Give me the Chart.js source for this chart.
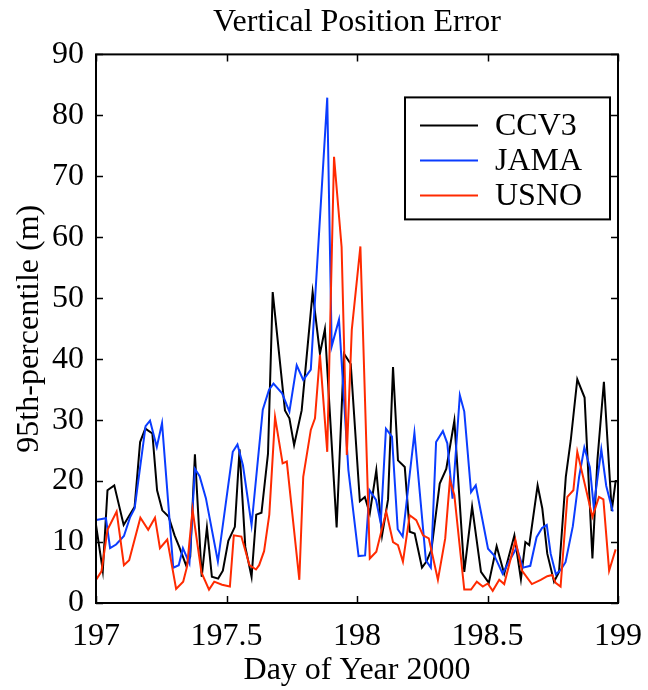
<!DOCTYPE html>
<html>
<head>
<meta charset="utf-8">
<title>Vertical Position Error</title>
<script src="https://cdn.jsdelivr.net/npm/chart.js@4.4.1/dist/chart.umd.min.js"></script>
<style>
    html, body { margin: 0; padding: 0; background: #fff; }
    #wrap { width: 648px; height: 690px; }
</style>
</head>
<body>
<div id="wrap"><canvas id="vpe-chart" width="648" height="690"></canvas></div>
<script>
// values: day of year 2000 and 95th-percentile error (m)
const ccv3Days = [197.000, 197.026, 197.044, 197.070, 197.106, 197.148, 197.169, 197.189, 197.216, 197.234,
    197.254, 197.278, 197.301, 197.319, 197.345, 197.361, 197.379, 197.405, 197.425, 197.444,
    197.468, 197.486, 197.507, 197.532, 197.550, 197.572, 197.596, 197.614, 197.634, 197.659,
    197.677, 197.724, 197.741, 197.759, 197.788, 197.830, 197.858, 197.877, 197.922, 197.950,
    197.976, 198.011, 198.030, 198.049, 198.074, 198.096, 198.119, 198.138, 198.157, 198.183,
    198.202, 198.221, 198.249, 198.266, 198.285, 198.317, 198.342, 198.373, 198.411, 198.441,
    198.475, 198.505, 198.535, 198.564, 198.603, 198.628, 198.645, 198.660, 198.692, 198.710,
    198.729, 198.755, 198.774, 198.800, 198.819, 198.844, 198.872, 198.902, 198.921, 198.946,
    198.976, 198.991, 199.011]
const ccv3Values = [12.8, 5.3, 18.5, 19.3, 12.8, 15.8, 26.4, 28.6, 27.8, 18.5,
    15.2, 14.2, 11.1, 9.2, 6.2, 7.6, 24.4, 4.3, 12.4, 4.3,
    4.0, 5.3, 10.2, 12.5, 25.2, 9.2, 4.3, 14.5, 14.8, 24.5,
    51.0, 31.6, 30.3, 25.9, 31.6, 51.0, 40.9, 44.9, 12.4, 40.9,
    39.2, 16.7, 17.4, 14.7, 21.8, 11.1, 17.0, 38.7, 23.4, 22.3,
    11.7, 11.4, 5.8, 6.8, 8.7, 19.6, 22.0, 29.9, 5.1, 15.8,
    5.1, 3.3, 9.3, 4.8, 11.1, 3.9, 10.0, 9.5, 19.3, 15.5,
    8.1, 3.5, 5.1, 20.7, 26.7, 36.7, 33.7, 7.3, 23.4, 36.3,
    15.1, 20.0, 20.0]

const jamaDays = [197.000, 197.038, 197.054, 197.077, 197.107, 197.130, 197.148, 197.190, 197.207, 197.233,
    197.253, 197.296, 197.317, 197.333, 197.358, 197.379, 197.397, 197.421, 197.467, 197.524,
    197.542, 197.563, 197.596, 197.639, 197.663, 197.680, 197.713, 197.741, 197.769, 197.794,
    197.823, 197.886, 197.903, 197.931, 197.967, 198.006, 198.031, 198.048, 198.073, 198.091,
    198.111, 198.134, 198.156, 198.175, 198.220, 198.264, 198.283, 198.303, 198.329, 198.346,
    198.366, 198.394, 198.411, 198.437, 198.455, 198.502, 198.526, 198.558, 198.580, 198.612,
    198.636, 198.664, 198.688, 198.709, 198.727, 198.742, 198.762, 198.780, 198.799, 198.827,
    198.851, 198.871, 198.892, 198.907, 198.936, 198.955, 198.980]
const jamaValues = [13.6, 13.9, 9.0, 9.6, 11.0, 14.0, 15.5, 29.0, 29.9, 25.6,
    29.5, 5.8, 6.2, 9.0, 6.5, 22.0, 20.8, 17.2, 6.8, 24.8,
    26.0, 22.6, 12.8, 31.7, 35.0, 36.0, 34.4, 31.4, 39.0, 36.6,
    38.3, 82.9, 42.1, 46.5, 21.8, 7.7, 7.8, 18.5, 16.9, 13.1,
    28.6, 27.3, 12.1, 10.9, 27.9, 7.0, 5.8, 26.4, 28.2, 26.2,
    17.1, 34.1, 31.4, 18.2, 19.3, 8.9, 7.8, 4.8, 6.6, 9.1,
    5.8, 6.1, 10.8, 12.3, 12.8, 8.1, 4.7, 5.4, 6.7, 12.6,
    20.7, 25.5, 22.3, 15.8, 25.2, 19.2, 15.0]

const usnoDays = [197.000, 197.021, 197.044, 197.079, 197.107, 197.127, 197.170, 197.200, 197.226, 197.245,
    197.273, 197.307, 197.334, 197.349, 197.370, 197.404, 197.433, 197.453, 197.483, 197.513,
    197.528, 197.557, 197.588, 197.613, 197.625, 197.644, 197.664, 197.686, 197.715, 197.731,
    197.779, 197.794, 197.823, 197.839, 197.858, 197.886, 197.912, 197.941, 197.961, 197.980,
    198.013, 198.049, 198.074, 198.112, 198.138, 198.157, 198.176, 198.202, 198.227, 198.253,
    198.275, 198.310, 198.338, 198.356, 198.373, 198.411, 198.437, 198.459, 198.482, 198.501,
    198.520, 198.545, 198.564, 198.607, 198.632, 198.670, 198.704, 198.729, 198.748, 198.761,
    198.780, 198.806, 198.829, 198.844, 198.902, 198.927, 198.944, 198.966, 198.991]
const usnoValues = [3.8, 5.2, 12.0, 15.0, 6.2, 7.0, 14.0, 12.0, 14.0, 9.0,
    10.4, 2.3, 3.5, 6.0, 15.3, 5.0, 2.2, 3.5, 3.0, 2.7,
    11.1, 10.9, 6.2, 5.5, 6.2, 8.5, 14.5, 30.5, 22.9, 23.2,
    3.8, 20.7, 28.4, 30.3, 40.7, 24.8, 73.2, 58.4, 24.3, 44.8,
    58.5, 7.3, 8.4, 15.0, 10.0, 9.5, 6.8, 14.4, 13.6, 11.1,
    10.6, 3.8, 10.6, 20.2, 17.7, 2.2, 2.2, 3.5, 2.7, 3.2,
    2.0, 3.8, 3.1, 10.3, 5.3, 3.1, 3.8, 4.4, 4.6, 3.3,
    2.7, 17.4, 18.5, 24.8, 14.1, 17.4, 17.0, 5.3, 8.8]

const seriesNames = ["CCV3", "JAMA", "USNO"]
const seriesColors = ["#000000", "#0a3cff", "#ff2a00"]
const xTicks = [197, 197.5, 198, 198.5, 199]
const yTicks = [0, 10, 20, 30, 40, 50, 60, 70, 80, 90]

const FONT = "'Liberation Serif', 'Times New Roman', serif"

function toPoints(days, values) {
    return days.map((d, i) => ({ x: d, y: values[i] }))
}

// MATLAB-style box: full frame, inward ticks on all four sides, boxed legend
function matlabFramePlugin() {
    return {
        id: "matlabFrame",
        afterDatasetsDraw: (chart) => {
            const { ctx, chartArea: a, scales } = chart
            const len = 7

            ctx.save()
            ctx.strokeStyle = "#000"
            ctx.lineWidth = 1.5
            ctx.beginPath()
            xTicks.forEach(v => {
                const px = Math.round(scales.x.getPixelForValue(v)) + 0.5
                ctx.moveTo(px, a.bottom); ctx.lineTo(px, a.bottom - len)
                ctx.moveTo(px, a.top); ctx.lineTo(px, a.top + len)
            })
            yTicks.forEach(v => {
                const py = Math.round(scales.y.getPixelForValue(v)) + 0.5
                ctx.moveTo(a.left, py); ctx.lineTo(a.left + len, py)
                ctx.moveTo(a.right, py); ctx.lineTo(a.right - len, py)
            })
            ctx.stroke()

            ctx.lineWidth = 2
            ctx.strokeRect(a.left, a.top, a.right - a.left, a.bottom - a.top)

            // legend box
            const boxW = 205, boxH = 122
            const bx = a.right - 8 - boxW
            const by = a.top + 43
            ctx.fillStyle = "#fff"
            ctx.fillRect(bx, by, boxW, boxH)
            ctx.strokeRect(bx, by, boxW, boxH)

            ctx.font = "32px " + FONT
            ctx.textBaseline = "middle"
            ctx.textAlign = "left"
            chart.data.datasets.forEach((ds, i) => {
                const rowY = by + 28 + i * 35
                ctx.strokeStyle = ds.borderColor
                ctx.lineWidth = 2
                ctx.beginPath()
                ctx.moveTo(bx + 15, rowY)
                ctx.lineTo(bx + 73, rowY)
                ctx.stroke()
                ctx.fillStyle = "#000"
                ctx.fillText(ds.label, bx + 90, rowY + 1)
            })
            ctx.restore()
        }
    }
}

const datasets = [
    { label: seriesNames[0], data: toPoints(ccv3Days, ccv3Values), borderColor: seriesColors[0], order: 3 },
    { label: seriesNames[1], data: toPoints(jamaDays, jamaValues), borderColor: seriesColors[1], order: 2 },
    { label: seriesNames[2], data: toPoints(usnoDays, usnoValues), borderColor: seriesColors[2], order: 1 }
].map(ds => Object.assign(ds, {
    type: "line",
    borderWidth: 2,
    pointRadius: 0,
    tension: 0,
    fill: false
}))

new Chart(document.getElementById("vpe-chart").getContext("2d"), {
    data: { datasets },
    options: {
        responsive: false,
        animation: false,
        layout: { padding: { left: 0, right: 30, top: 0, bottom: 0 } },
        plugins: {
            legend: { display: false },
            tooltip: { enabled: false },
            title: {
                display: true,
                fullSize: false,
                text: "Vertical Position Error",
                color: "#000",
                font: { family: FONT, size: 32, weight: "normal" },
                padding: { top: 3, bottom: 13 }
            }
        },
        scales: {
            x: {
                type: "linear",
                min: 197,
                max: 199,
                afterFit: (scale) => {
                    scale.height = 87
                    scale.paddingLeft = 0
                    scale.paddingRight = 0
                },
                afterBuildTicks: (scale) => { scale.ticks = xTicks.map(v => ({ value: v })) },
                grid: { display: false, drawTicks: false },
                border: { display: false },
                ticks: {
                    color: "#000",
                    padding: 14,
                    maxRotation: 0,
                    font: { family: FONT, size: 32 },
                    callback: (v) => String(v)
                },
                title: {
                    display: true,
                    text: "Day of Year 2000",
                    color: "#000",
                    font: { family: FONT, size: 32 },
                    padding: { top: 0, bottom: 0 }
                }
            },
            y: {
                type: "linear",
                min: 0,
                max: 90,
                afterFit: (scale) => {
                    scale.width = 96
                    scale.paddingTop = 0
                    scale.paddingBottom = 0
                },
                afterBuildTicks: (scale) => { scale.ticks = yTicks.map(v => ({ value: v })) },
                grid: { display: false, drawTicks: false },
                border: { display: false },
                ticks: {
                    color: "#000",
                    padding: 12,
                    font: { family: FONT, size: 32 }
                },
                title: {
                    display: true,
                    text: "95th-percentile (m)",
                    color: "#000",
                    font: { family: FONT, size: 32 },
                    padding: { top: 10, bottom: 0 }
                }
            }
        }
    },
    plugins: [matlabFramePlugin()]
})
</script>
</body>
</html>
